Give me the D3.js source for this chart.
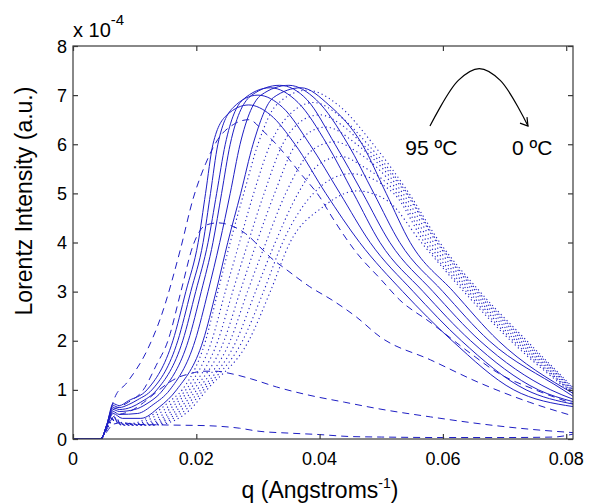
<!DOCTYPE html>
<html><head><meta charset="utf-8">
<script src="https://cdn.jsdelivr.net/npm/d3@7/dist/d3.min.js"></script>
<style>
html,body{margin:0;padding:0;background:#fff;}
svg text{font-family:"Liberation Sans",Arial,Helvetica,sans-serif;fill:#000;}
</style></head>
<body>
<svg id="c" width="589" height="504"></svg>
<script>
// ---- data (q in 1/Angstrom, intensity in units of 1e-4) ----
const xTicks = [0, 0.02, 0.04, 0.06, 0.08];
const xTickLabels = ["0", "0.02", "0.04", "0.06", "0.08"];
const yTicks = [0, 1, 2, 3, 4, 5, 6, 7, 8];
const xDomain = [0, 0.0811];
const yDomain = [0, 8];

// dashed series (early / high temperature)
const dashed1 = [[0,0],[0.0045,0],[0.0055,0.15],[0.0065,0.3],[0.008,0.33],[0.010,0.3],[0.013,0.29],[0.018,0.28],[0.022,0.27],[0.027,0.22],[0.030,0.16],[0.035,0.12],[0.040,0.09],[0.045,0.05],[0.050,0.04],[0.060,0.03],[0.070,0.03],[0.078,0.04],[0.0811,0.1]];
const dashed2 = [[0,0],[0.0045,0],[0.0055,0.2],[0.0065,0.45],[0.0075,0.5],[0.009,0.55],[0.011,0.7],[0.013,0.9],[0.015,1.1],[0.017,1.25],[0.019,1.33],[0.021,1.38],[0.023,1.38],[0.026,1.32],[0.029,1.22],[0.033,1.06],[0.038,0.9],[0.044,0.75],[0.0498,0.61],[0.058,0.45],[0.066,0.31],[0.074,0.2],[0.0811,0.13]];
const dashed3 = [[0,0],[0.0045,0],[0.0055,0.25],[0.0065,0.6],[0.0075,0.65],[0.009,0.75],[0.0114,1.0],[0.0135,1.5],[0.0154,2.0],[0.0175,3.0],[0.0195,3.95],[0.0215,4.35],[0.0235,4.4],[0.0255,4.35],[0.028,4.18],[0.0303,3.91],[0.032,3.7],[0.0347,3.44],[0.0384,3.1],[0.042,2.83],[0.046,2.48],[0.0498,2.08],[0.058,1.61],[0.066,1.14],[0.074,0.75],[0.0811,0.47]];
const dashed4 = [[0,0],[0.0045,0],[0.0055,0.3],[0.0065,0.75],[0.0068,0.85],[0.0087,1.14],[0.012,1.8],[0.0143,2.5],[0.0174,3.85],[0.0195,4.9],[0.0215,5.6],[0.0235,6.1],[0.026,6.4],[0.0285,6.5],[0.031,6.25],[0.0347,5.75],[0.0368,5.42],[0.040,4.93],[0.042,4.52],[0.046,3.79],[0.050,3.24],[0.053,2.83],[0.0579,2.38],[0.0644,1.75],[0.069,1.34],[0.075,1.0],[0.0811,0.72]];

// solid series (intermediate)
const solid1 = [[0,0],[0.0045,0],[0.0055,0.3],[0.0065,0.72],[0.0075,0.68],[0.009,0.78],[0.012,1.0],[0.0162,2.0],[0.0183,3.0],[0.0203,4.0],[0.0215,5.0],[0.0227,6.0],[0.025,6.6],[0.0285,6.8],[0.032,6.6],[0.036,6.0],[0.041,5.0],[0.0465,4.0],[0.0535,3.0],[0.0615,2.0],[0.0715,1.0],[0.0811,0.66]];
const solid2 = [[0,0],[0.0045,0],[0.0055,0.3],[0.0065,0.68],[0.0075,0.64],[0.009,0.7],[0.0105,0.8],[0.0128,1.0],[0.017,2.0],[0.0191,3.0],[0.0211,4.0],[0.0223,5.0],[0.0235,6.0],[0.026,6.75],[0.030,7.0],[0.034,6.75],[0.0384,6.0],[0.0433,5.0],[0.0482,4.0],[0.0552,3.0],[0.063,2.0],[0.0735,1.0],[0.0811,0.71]];
const solid3 = [[0,0],[0.0045,0],[0.0055,0.3],[0.0065,0.64],[0.0075,0.6],[0.0095,0.65],[0.011,0.75],[0.0136,1.0],[0.0178,2.0],[0.0199,3.0],[0.0219,4.0],[0.0233,5.0],[0.0247,6.0],[0.0275,6.9],[0.032,7.15],[0.0365,6.85],[0.0412,6.0],[0.0455,5.0],[0.0498,4.0],[0.0568,3.0],[0.0645,2.0],[0.0755,1.0],[0.0811,0.76]];
const solid4 = [[0,0],[0.0045,0],[0.0055,0.28],[0.0065,0.6],[0.0075,0.56],[0.010,0.6],[0.012,0.72],[0.0146,1.0],[0.0187,2.0],[0.0208,3.0],[0.0227,4.0],[0.0241,5.0],[0.0255,6.0],[0.029,7.0],[0.0335,7.2],[0.038,6.9],[0.0425,6.0],[0.047,5.0],[0.0514,4.0],[0.0584,3.0],[0.066,2.0],[0.0775,1.0],[0.0811,0.81]];
const solid5 = [[0,0],[0.0045,0],[0.0055,0.27],[0.0065,0.56],[0.0075,0.5],[0.0105,0.52],[0.013,0.7],[0.0157,1.0],[0.0198,2.0],[0.0219,3.0],[0.0238,4.0],[0.0255,5.0],[0.0271,6.0],[0.0305,7.0],[0.035,7.2],[0.0395,6.9],[0.0446,6.0],[0.0488,5.0],[0.053,4.0],[0.060,3.0],[0.0675,2.0],[0.0795,1.0],[0.0811,0.87]];
const solid6 = [[0,0],[0.0045,0],[0.0055,0.26],[0.0065,0.52],[0.008,0.42],[0.011,0.42],[0.014,0.65],[0.0168,1.0],[0.0211,2.0],[0.0232,3.0],[0.0251,4.0],[0.0272,5.0],[0.0292,6.0],[0.0325,6.95],[0.037,7.15],[0.0415,6.8],[0.0469,6.0],[0.0508,5.0],[0.0547,4.0],[0.0617,3.0],[0.069,2.0],[0.0811,0.93]];

// dotted series (late / low temperature)
const dotted1 = [[0,0],[0.0045,0],[0.0055,0.25],[0.0065,0.45],[0.008,0.33],[0.0095,0.32],[0.013,0.5],[0.0155,0.75],[0.0177,1.0],[0.0215,2.0],[0.0235,3.0],[0.0255,4.0],[0.0277,5.0],[0.030,6.0],[0.033,6.8],[0.038,7.1],[0.043,6.8],[0.0487,6.0],[0.0545,5.0],[0.0595,4.0],[0.066,3.0],[0.0736,2.0],[0.0811,1.05]];
const dotted2 = [[0,0],[0.0045,0],[0.0055,0.25],[0.0065,0.44],[0.008,0.32],[0.010,0.31],[0.0135,0.48],[0.016,0.72],[0.0183,1.0],[0.0225,2.0],[0.0247,3.0],[0.027,4.0],[0.0293,5.0],[0.032,6.0],[0.0355,6.65],[0.039,6.85],[0.0435,6.55],[0.0478,6.0],[0.0542,5.0],[0.0592,4.0],[0.0657,3.0],[0.0733,2.0],[0.0811,1.03]];
const dotted3 = [[0,0],[0.0045,0],[0.0055,0.24],[0.0065,0.43],[0.008,0.31],[0.0105,0.3],[0.014,0.45],[0.0165,0.7],[0.0189,1.0],[0.0235,2.0],[0.0259,3.0],[0.0284,4.0],[0.031,5.0],[0.034,6.0],[0.0368,6.45],[0.040,6.6],[0.0435,6.4],[0.047,6.0],[0.054,5.0],[0.059,4.0],[0.0654,3.0],[0.073,2.0],[0.0811,1.01]];
const dotted4 = [[0,0],[0.0045,0],[0.0055,0.24],[0.0065,0.42],[0.008,0.3],[0.011,0.3],[0.0145,0.43],[0.017,0.68],[0.0195,1.0],[0.0245,2.0],[0.0271,3.0],[0.0298,4.0],[0.0327,5.0],[0.0362,6.0],[0.041,6.35],[0.046,6.0],[0.0535,5.0],[0.0585,4.0],[0.065,3.0],[0.0726,2.0],[0.0811,0.99]];
const dotted5 = [[0,0],[0.0045,0],[0.0055,0.23],[0.0065,0.41],[0.008,0.3],[0.0115,0.29],[0.015,0.42],[0.0175,0.66],[0.0201,1.0],[0.0255,2.0],[0.0283,3.0],[0.0313,4.0],[0.0345,5.0],[0.039,5.9],[0.0425,6.05],[0.046,5.85],[0.053,5.0],[0.058,4.0],[0.0646,3.0],[0.0722,2.0],[0.0811,0.97]];
const dotted6 = [[0,0],[0.0045,0],[0.0055,0.23],[0.0065,0.4],[0.008,0.29],[0.012,0.29],[0.0155,0.41],[0.018,0.64],[0.0207,1.0],[0.0265,2.0],[0.0296,3.0],[0.0328,4.0],[0.0365,5.0],[0.040,5.6],[0.0435,5.75],[0.047,5.55],[0.0525,5.0],[0.0575,4.0],[0.0642,3.0],[0.0718,2.0],[0.0811,0.95]];
const dotted7 = [[0,0],[0.0045,0],[0.0055,0.22],[0.0065,0.39],[0.008,0.28],[0.0125,0.28],[0.016,0.4],[0.0185,0.62],[0.0212,1.0],[0.0275,2.0],[0.0309,3.0],[0.034,4.0],[0.039,5.0],[0.045,5.4],[0.052,5.0],[0.057,4.0],[0.0638,3.0],[0.0714,2.0],[0.0811,0.94]];
const dotted8 = [[0,0],[0.0045,0],[0.0055,0.22],[0.0065,0.38],[0.008,0.28],[0.013,0.28],[0.0165,0.38],[0.019,0.6],[0.0217,1.0],[0.0285,2.0],[0.032,3.0],[0.0352,4.0],[0.0405,4.72],[0.046,5.05],[0.051,4.85],[0.0565,4.0],[0.0634,3.0],[0.071,2.0],[0.0811,0.92]];

const dashedSeries = [dashed1, dashed2, dashed3, dashed4];
const solidSeries = [solid1, solid2, solid3, solid4, solid5, solid6];
const dottedSeries = [dotted1, dotted2, dotted3, dotted4, dotted5, dotted6, dotted7, dotted8];

// annotation (data coordinates)
const arcPoints = [[0.0579, 6.37], [0.0625, 7.3], [0.0659, 7.54], [0.0693, 7.3], [0.0738, 6.37]];
const labelHot = {q: 0.0539, v: 5.78, text: "95 ºC"};
const labelCold = {q: 0.0712, v: 5.78, text: "0 ºC"};

// ---- drawing ----
const svg = d3.select("#c");
const M = {left: 73, right: 573, top: 46, bottom: 439};
const x = d3.scaleLinear().domain(xDomain).range([M.left, M.right]);
const y = d3.scaleLinear().domain(yDomain).range([M.bottom, M.top]);
const blue = "#1e1ec4";
const axisColor = "#3a3a3a";

svg.append("defs").append("clipPath").attr("id", "clip")
  .append("rect").attr("x", M.left).attr("y", M.top)
  .attr("width", M.right - M.left).attr("height", M.bottom - M.top);

const line = d3.line().x(d => x(d[0])).y(d => y(d[1])).curve(d3.curveMonotoneX);
const plot = svg.append("g").attr("clip-path", "url(#clip)");

plot.selectAll("path.dotted").data(dottedSeries).join("path")
  .attr("class", "dotted").attr("d", line).attr("fill", "none")
  .attr("stroke", blue).attr("stroke-width", 1.1).attr("stroke-dasharray", "1.2,3");
plot.selectAll("path.solid").data(solidSeries).join("path")
  .attr("class", "solid").attr("d", line).attr("fill", "none")
  .attr("stroke", blue).attr("stroke-width", 1);
plot.selectAll("path.dashed").data(dashedSeries).join("path")
  .attr("class", "dashed").attr("d", line).attr("fill", "none")
  .attr("stroke", blue).attr("stroke-width", 1).attr("stroke-dasharray", "7,5");

// axes box and ticks (inward, mirrored)
const tickLen = 5;
svg.append("rect").attr("x", M.left).attr("y", M.top)
  .attr("width", M.right - M.left).attr("height", M.bottom - M.top)
  .attr("fill", "none").attr("stroke", axisColor).attr("stroke-width", 1.2);

const xAxisB = d3.axisBottom(x).tickValues(xTicks).tickSizeInner(-tickLen).tickSizeOuter(0).tickFormat("");
const xAxisT = d3.axisTop(x).tickValues(xTicks).tickSizeInner(-tickLen).tickSizeOuter(0).tickFormat("");
const yAxisL = d3.axisLeft(y).tickValues(yTicks).tickSizeInner(-tickLen).tickSizeOuter(0).tickFormat("");
const yAxisR = d3.axisRight(y).tickValues(yTicks).tickSizeInner(-tickLen).tickSizeOuter(0).tickFormat("");
[[xAxisB, `translate(0,${M.bottom})`], [xAxisT, `translate(0,${M.top})`],
 [yAxisL, `translate(${M.left},0)`], [yAxisR, `translate(${M.right},0)`]].forEach(([ax, tr]) => {
  const g = svg.append("g").attr("transform", tr).call(ax);
  g.select(".domain").remove();
  g.selectAll("line").attr("stroke", axisColor).attr("stroke-width", 1.2);
});

// tick labels
svg.append("g").selectAll("text").data(xTicks).join("text")
  .attr("transform", d => `translate(${x(d)},465)`)
  .attr("text-anchor", "middle").attr("font-size", 18)
  .text((d, i) => xTickLabels[i]);
svg.append("g").selectAll("text").data(yTicks).join("text")
  .attr("transform", d => `translate(67,${y(d) + 6.5})`)
  .attr("text-anchor", "end").attr("font-size", 18)
  .text(d => d);

// exponent
const ex = svg.append("text").attr("x", 73).attr("y", 37).attr("font-size", 20);
ex.append("tspan").text("x 10");
ex.append("tspan").attr("font-size", 15).attr("dy", -12).text("-4");

// axis labels
const xl = svg.append("text").attr("x", 320).attr("y", 498).attr("text-anchor", "middle").attr("font-size", 23);
xl.append("tspan").text("q (Angstroms");
xl.append("tspan").attr("font-size", 14).attr("dy", -10).text("-1");
xl.append("tspan").attr("dy", 10).text(")");

svg.append("text").attr("transform", "translate(32,201) rotate(-90)")
  .attr("text-anchor", "middle").attr("font-size", 23)
  .text("Lorentz Intensity (a.u.)");

// annotation arc with arrow
const arcLine = d3.line().x(d => x(d[0])).y(d => y(d[1])).curve(d3.curveCatmullRom.alpha(0.5));
svg.append("path").attr("d", arcLine(arcPoints)).attr("fill", "none")
  .attr("stroke", "#000").attr("stroke-width", 1.2);
const end = arcPoints[arcPoints.length - 1];
const ex1 = x(end[0]), ey1 = y(end[1]);
svg.append("path").attr("d", `M${ex1 - 8},${ey1 - 3} L${ex1},${ey1} L${ex1 - 1},${ey1 - 9}`)
  .attr("fill", "none").attr("stroke", "#000").attr("stroke-width", 1.2);

[labelHot, labelCold].forEach(l => {
  svg.append("text").attr("x", x(l.q)).attr("y", y(l.v)).attr("font-size", 21).text(l.text);
});
</script>
</body></html>
